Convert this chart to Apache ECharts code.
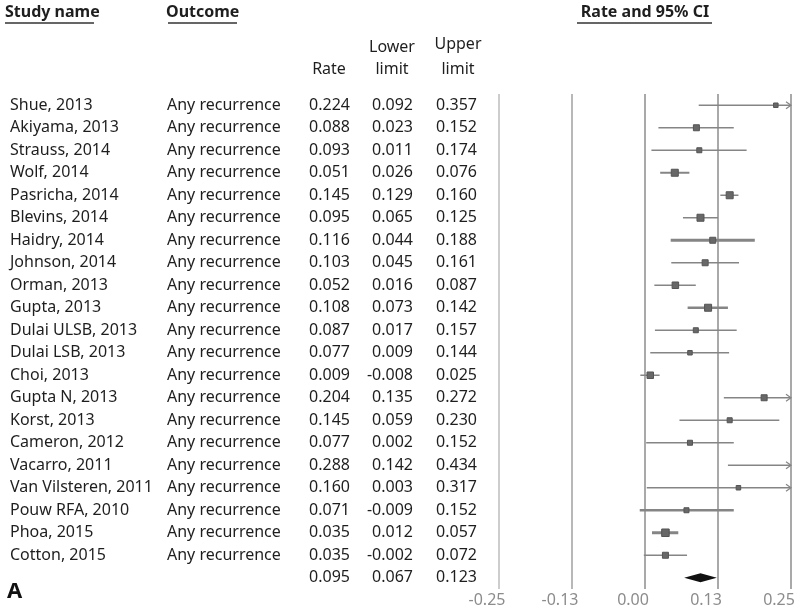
<!DOCTYPE html>
<html>
<head>
<meta charset="utf-8">
<script src="https://cdn.jsdelivr.net/npm/echarts@6/dist/echarts.min.js"></script>
<style>
html,body{margin:0;padding:0;background:#fff;}
#chart{width:800px;height:609px;}
</style>
</head>
<body>
<div id="chart"></div>
<script>
// ---------------- DATA ----------------
const studies = [
  'Shue, 2013','Akiyama, 2013','Strauss, 2014','Wolf, 2014','Pasricha, 2014',
  'Blevins, 2014','Haidry, 2014','Johnson, 2014','Orman, 2013','Gupta, 2013',
  'Dulai ULSB, 2013','Dulai LSB, 2013','Choi, 2013','Gupta N, 2013','Korst, 2013',
  'Cameron, 2012','Vacarro, 2011','Van Vilsteren, 2011','Pouw RFA, 2010','Phoa, 2015',
  'Cotton, 2015'
];
const outcomes = studies.map(() => 'Any recurrence');
const rates  = [0.224,0.088,0.093,0.051,0.145,0.095,0.116,0.103,0.052,0.108,0.087,0.077,0.009,0.204,0.145,0.077,0.288,0.160,0.071,0.035,0.035];
const lowers = [0.092,0.023,0.011,0.026,0.129,0.065,0.044,0.045,0.016,0.073,0.017,0.009,-0.008,0.135,0.059,0.002,0.142,0.003,-0.009,0.012,-0.002];
const uppers = [0.357,0.152,0.174,0.076,0.160,0.125,0.188,0.161,0.087,0.142,0.157,0.144,0.025,0.272,0.230,0.152,0.434,0.317,0.152,0.057,0.072];
// relative study weights
const weights = [5.1,9,6.3,12.3,12.3,12.3,9,9,10.6,12.3,6.3,5.1,10.6,9,6.3,6.3,6.3,5.1,6.3,14.1,9];
const summary = {rate:0.095, lower:0.067, upper:0.123};
const xTicks = {min:-0.25, max:0.25, step:0.125};

// ---------------- STYLE ----------------
const ciLineWidths = [1.5,1.5,1.5,2,1.5,1.5,3,1.5,1.5,2.5,1.5,1.5,1.5,1.5,1.5,1.5,1.5,1.5,2.5,3,1.5];
const FONT = '"Noto Sans", "Open Sans", sans-serif';
const TEXT = '#1e1e1e';
const CI_COLOR = '#858585';

const nRows = studies.length + 1;
const rowCats = Array.from({length:nRows}, (_, i) => String(i));
const fmt = v => v.toFixed(3);

const col = (i, arr, sumVal) => i < studies.length ? arr[i] : sumVal;

function textAxis(formatter, align, margin) {
  return {
    type:'category', data:rowCats, inverse:true, gridIndex:0, position:'left',
    axisLine:{show:false}, axisTick:{show:false}, splitLine:{show:false},
    axisLabel:{show:true, interval:0, align:align, margin:margin,
      fontFamily:FONT, fontSize:16, color:TEXT, formatter:formatter}
  };
}

const gridLeft = 499;

const option = {
  animation:false,
  grid:{left:gridLeft, right:9, top:94, bottom:20, containLabel:false, outerBoundsMode:'none'},
  xAxis:{
    type:'value', min:xTicks.min, max:xTicks.max, interval:xTicks.step,
    axisLine:{show:false}, axisTick:{show:false},
    splitLine:{show:true, lineStyle:{color:['#cdcdcd','#b8b8b8','#a9a9a9','#a9a9a9','#a9a9a9'], width:2}},
    axisLabel:{margin:3, fontFamily:FONT, fontSize:16, color:'#8c8c8c', align:'center',
      padding:[0,24,0,0],
      formatter:v => v.toFixed(2), showMinLabel:true, showMaxLabel:true}
  },
  yAxis:[
    {type:'category', data:rowCats, inverse:true, show:false},
    textAxis((v,i) => i < studies.length ? studies[i] : '', 'left', gridLeft - 10),
    textAxis((v,i) => i < studies.length ? outcomes[i] : '', 'left', gridLeft - 167),
    textAxis((v,i) => fmt(col(i, rates, summary.rate)), 'right', gridLeft - 350),
    textAxis((v,i) => fmt(col(i, lowers, summary.lower)), 'right', gridLeft - 413),
    textAxis((v,i) => fmt(col(i, uppers, summary.upper)), 'right', gridLeft - 477)
  ],
  series:[
    {
      type:'custom', xAxisIndex:0, yAxisIndex:0, clip:false,
      data: rates.map((r,i) => [r, i, lowers[i], uppers[i], weights[i]]),
      encode:{x:[0,2,3], y:1},
      renderItem:(params, api) => {
        const r = api.value(0), idx = api.value(1), lo = api.value(2), hi = api.value(3), w = api.value(4);
        const y = api.coord([0, idx])[1];
        const xl = api.coord([Math.max(lo, xTicks.min), idx])[0];
        const xr = api.coord([Math.min(hi, xTicks.max), idx])[0];
        const lw = ciLineWidths[idx];
        const children = [{
          type:'line', shape:{x1:xl, y1:y, x2:xr, y2:y},
          style:{stroke:CI_COLOR, lineWidth:lw}
        }];
        if (hi > xTicks.max) {
          children.push({type:'polyline', shape:{points:[[xr-5,y-3.5],[xr,y],[xr-5,y+3.5]]},
            style:{stroke:CI_COLOR, lineWidth:1.2, fill:null}});
        }
        if (lo < xTicks.min) {
          children.push({type:'polyline', shape:{points:[[xl+5,y-3.5],[xl,y],[xl+5,y+3.5]]},
            style:{stroke:CI_COLOR, lineWidth:1.2, fill:null}});
        }
        if (r >= xTicks.min && r <= xTicks.max) {
          const s = 2 * Math.sqrt(w);
          const xc = api.coord([r, idx])[0];
          children.push({type:'rect', shape:{x:xc - s/2, y:y - s/2, width:s, height:s},
            style:{fill:'#686868', stroke:'#555', lineWidth:1}});
        }
        return {type:'group', children};
      }
    },
    {
      type:'custom', xAxisIndex:0, yAxisIndex:0, clip:false,
      data:[[summary.rate, studies.length, summary.lower, summary.upper]],
      encode:{x:[0,2,3], y:1},
      renderItem:(params, api) => {
        const idx = api.value(1);
        const y = api.coord([0, idx])[1];
        const xc = api.coord([api.value(0), idx])[0];
        const xl = api.coord([api.value(2), idx])[0];
        const xr = api.coord([api.value(3), idx])[0];
        return {type:'polygon', shape:{points:[[xl,y],[xc,y-4.5],[xr,y],[xc,y+4.5]]},
          style:{fill:'#111'}};
      }
    }
  ],
  graphic:[
    {type:'text', left:5, top:4, style:{text:'Study name', font:'bold 16px '+FONT, fill:TEXT}},
    {type:'line', shape:{x1:5, y1:23, x2:94, y2:23}, style:{stroke:'#333', lineWidth:1.5}},
    {type:'text', left:166, top:4, style:{text:'Outcome', font:'bold 16px '+FONT, fill:TEXT}},
    {type:'line', shape:{x1:168, y1:23, x2:237, y2:23}, style:{stroke:'#333', lineWidth:1.5}},
    {type:'text', x:645, y:12, style:{text:'Rate and 95% CI', font:'bold 16px '+FONT, fill:TEXT, align:'center', verticalAlign:'middle'}},
    {type:'line', shape:{x1:577, y1:23, x2:712, y2:23}, style:{stroke:'#333', lineWidth:1.5}},
    {type:'text', x:329, y:69, style:{text:'Rate', font:'16px '+FONT, fill:TEXT, align:'center', verticalAlign:'middle'}},
    {type:'text', x:392, y:47, style:{text:'Lower', font:'16px '+FONT, fill:TEXT, align:'center', verticalAlign:'middle'}},
    {type:'text', x:392, y:69, style:{text:'limit', font:'16px '+FONT, fill:TEXT, align:'center', verticalAlign:'middle'}},
    {type:'text', x:458, y:44, style:{text:'Upper', font:'16px '+FONT, fill:TEXT, align:'center', verticalAlign:'middle'}},
    {type:'text', x:458, y:69, style:{text:'limit', font:'16px '+FONT, fill:TEXT, align:'center', verticalAlign:'middle'}},
    {type:'text', x:7, y:592, style:{text:'A', font:'bold 22px '+FONT, fill:'#111', verticalAlign:'middle'}}
  ]
};

const chart = echarts.init(document.getElementById('chart'), null, {renderer:'canvas'});
chart.setOption(option);
</script>
</body>
</html>
